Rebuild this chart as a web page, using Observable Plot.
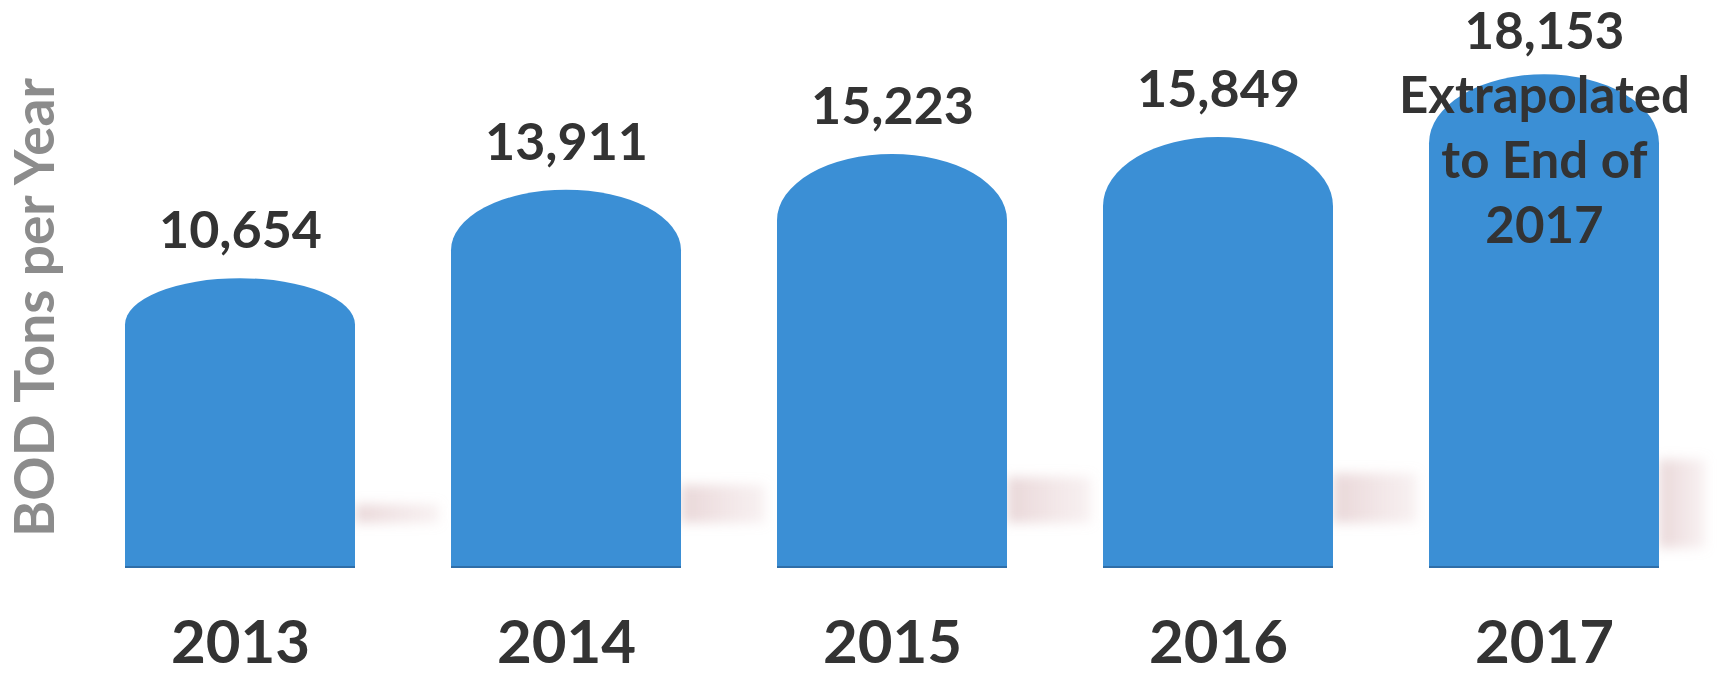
<!DOCTYPE html>
<html><head><meta charset="utf-8">
<script src="https://cdn.jsdelivr.net/npm/d3@7"></script>
<script src="https://cdn.jsdelivr.net/npm/@observablehq/plot@0.6"></script>
<style>
html,body{margin:0;padding:0;background:#fff;overflow:hidden}
</style></head><body><div id="chart"></div>
<script>
// ---- data ----
const years = ["2013", "2014", "2015", "2016", "2017"];
const tons = [10654, 13911, 15223, 15849, 18153];
const valueLabels = ["10,654", "13,911", "15,223", "15,849", "18,153\nExtrapolated\nto End of\n2017"];
const yLabel = "BOD Tons per Year";

const data = years.map((y, i) => ({year: y, tons: tons[i], label: valueLabels[i]}));
const single = data.filter(d => !d.label.includes("\n"));
const multi = data.filter(d => d.label.includes("\n"));

const FONT = "Lato, 'Open Sans', sans-serif";
const BAR = "#3b8fd5";

const plot = Plot.plot({
  width: 1729, height: 676,
  marginLeft: 125, marginRight: 70, marginTop: 24, marginBottom: 108,
  x: {domain: years, paddingInner: 0.295, paddingOuter: 0, axis: null},
  y: {domain: [0, 20000], axis: null},
  style: {fontFamily: FONT, background: "#fff", overflow: "visible"},
  marks: [
    Plot.barY(data, {x: "year", y: "tons", fill: BAR}),
    Plot.text(single, {x: "year", y: "tons", text: "label", dy: -47, fontSize: 52, fontWeight: 700, fill: "#333"}),
    Plot.text(multi, {x: "year", y: "tons", text: "label", lineAnchor: "top", lineHeight: 1.27, dy: -72, fontSize: 51, fontWeight: 700, fill: "#333"}),
    Plot.text(data, {x: "year", frameAnchor: "bottom", text: "year", dy: 94, fontSize: 60, fontWeight: 700, fill: "#333"}),
    Plot.text([yLabel], {frameAnchor: "left", textAnchor: "middle", lineAnchor: "middle", rotate: -90, dx: -89, dy: 11, fontSize: 55, fontWeight: 700, fill: "#8c8c8c"})
  ]
});

// ---- turn the library's bars into domed bars, add soft floor shadows ----
const svgNS = "http://www.w3.org/2000/svg";
const defs = document.createElementNS(svgNS, "defs");
defs.innerHTML = `
  <filter id="blur" x="-50%" y="-50%" width="200%" height="200%"><feGaussianBlur stdDeviation="6"/></filter>
  <linearGradient id="shade" x1="0" x2="1" y1="0" y2="0">
    <stop offset="0" stop-color="rgb(205,165,168)" stop-opacity="0.45"/>
    <stop offset="1" stop-color="rgb(220,185,188)" stop-opacity="0.2"/>
  </linearGradient>`;
plot.insertBefore(defs, plot.firstChild);

const barGroup = plot.querySelector('g[aria-label="bar"]');
const shadowGroup = document.createElementNS(svgNS, "g");
shadowGroup.setAttribute("filter", "url(#blur)");
barGroup.parentNode.insertBefore(shadowGroup, barGroup);

const rects = Array.from(barGroup.querySelectorAll("rect"));
rects.forEach((r, i) => {
  const x = +r.getAttribute("x"), y = +r.getAttribute("y");
  const w = +r.getAttribute("width"), h = +r.getAttribute("height");
  const floor = y + h;
  const b = Math.min(0.16 * h, 0.3 * w);
  const p = document.createElementNS(svgNS, "path");
  p.setAttribute("d", `M${x},${floor}L${x},${y + b}A${w / 2},${b} 0 0 1 ${x + w},${y + b}L${x + w},${floor}Z`);
  p.setAttribute("fill", BAR);
  r.parentNode.replaceChild(p, r);
  const edge = document.createElementNS(svgNS, "line");
  edge.setAttribute("x1", x); edge.setAttribute("x2", x + w);
  edge.setAttribute("y1", floor - 1); edge.setAttribute("y2", floor - 1);
  edge.setAttribute("stroke", "#2f6ea8"); edge.setAttribute("stroke-width", 2);
  barGroup.appendChild(edge);
  // shadow to the right of each bar
  const sw = i < rects.length - 1 ? 84 : 46;
  const s = document.createElementNS(svgNS, "rect");
  const top = floor - 0.22 * h, bot = floor - (i < rects.length - 1 ? 45 : 20);
  s.setAttribute("x", x + w); s.setAttribute("width", sw);
  s.setAttribute("y", top); s.setAttribute("height", Math.max(12, bot - top));
  s.setAttribute("fill", "url(#shade)");
  shadowGroup.appendChild(s);
});

document.getElementById("chart").appendChild(plot);
</script>
</body></html>
